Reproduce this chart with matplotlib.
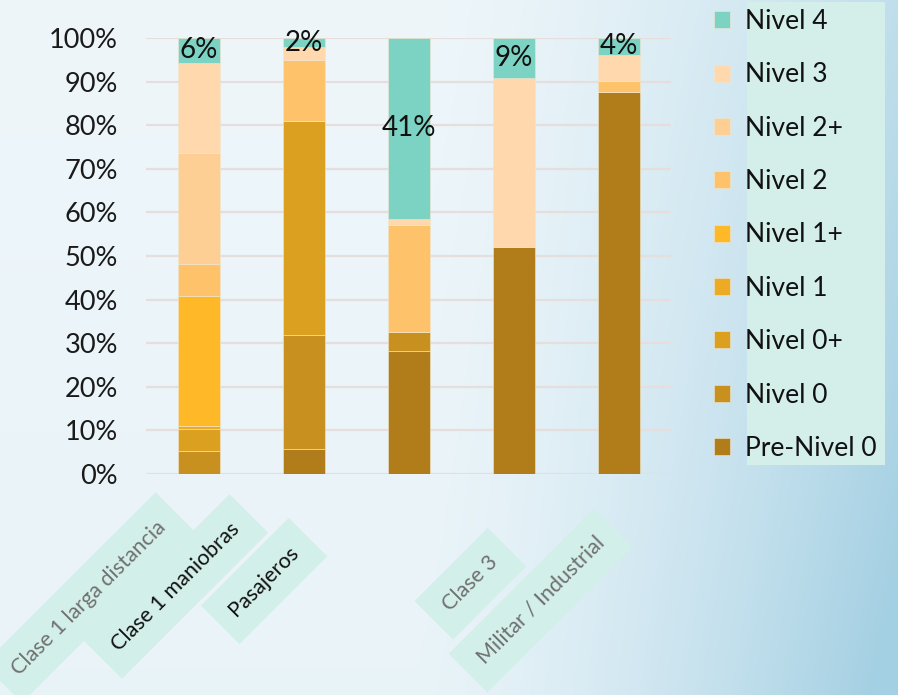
import numpy as np
import matplotlib
matplotlib.use("Agg")
import matplotlib.pyplot as plt
from matplotlib.patches import Rectangle
from matplotlib.ticker import FuncFormatter

plt.rcParams['font.family'] = ['Lato', 'DejaVu Sans']

categories = ["Clase 1 larga distancia", "Clase 1 maniobras", "Pasajeros", "Clase 3", "Militar / Industrial"]
levels = ["Pre-Nivel 0", "Nivel 0", "Nivel 0+", "Nivel 1", "Nivel 1+", "Nivel 2", "Nivel 2+", "Nivel 3", "Nivel 4"]
pre_nivel_0 = [0.0, 5.7, 28.1, 52.1, 87.7]
nivel_0 = [5.3, 26.1, 4.5, 0.0, 0.0]
nivel_0p = [5.1, 49.2, 0.0, 0.0, 0.0]
nivel_1 = [0.6, 0.0, 0.0, 0.0, 0.0]
nivel_1p = [29.8, 0.0, 0.0, 0.0, 0.0]
nivel_2 = [7.4, 14.0, 24.5, 0.0, 2.4]
nivel_2p = [25.4, 0.0, 0.0, 0.0, 0.0]
nivel_3 = [20.7, 2.9, 1.5, 38.8, 6.1]
nivel_4 = [5.7, 2.1, 41.4, 9.1, 3.8]
nivel_4_labels = ["6%", "2%", "41%", "9%", "4%"]
yticks = [0, 10, 20, 30, 40, 50, 60, 70, 80, 90, 100]

series = [pre_nivel_0, nivel_0, nivel_0p, nivel_1, nivel_1p, nivel_2, nivel_2p, nivel_3, nivel_4]
colors = ["#B07D1A", "#C8901E", "#DBA020", "#EDAA25", "#FEB828", "#FEC26B", "#FECF95", "#FFD8AE", "#7DD3C3"]

W, H = 898, 695
fig = plt.figure(figsize=(W / 100, H / 100), dpi=100)

# background gradient
bg = fig.add_axes([0, 0, 1, 1], zorder=-5)
xs = np.linspace(0, 1, 300)
ys = np.linspace(0, 1, 240)
X, Y = np.meshgrid(xs, ys)
t = np.clip((X - 0.46) / 0.54, 0, 1) ** 1.5 * (0.62 + 0.38 * Y)
t = np.clip(t + 0.07 * Y, 0, 1)
c0 = np.array([0xEE, 0xF6, 0xFA]) / 255
c1 = np.array([0xA4, 0xD0, 0xE3]) / 255
img = c0[None, None, :] * (1 - t[..., None]) + c1[None, None, :] * t[..., None]
bg.imshow(img, extent=[0, 1, 0, 1], origin='upper', aspect='auto')
bg.set_axis_off()

# legend mint panel
fig.add_artist(Rectangle((747 / W, 1 - 465 / H), (885 - 747) / W, (465 - 2) / H,
                         transform=fig.transFigure, facecolor="#D4EFEA", edgecolor='none', zorder=-1))

ax = fig.add_axes([146 / W, 1 - 474 / H, (671 - 146) / W, (474 - 38) / H], zorder=1)
ax.set_facecolor('none')
x = np.arange(len(categories))
bottom = np.zeros(len(categories))
containers = []
for name, vals, col in zip(levels, series, colors):
    c = ax.bar(x, vals, width=0.4, bottom=bottom, color=col, label=name,
               edgecolor='#F0E6CF', linewidth=0.4, zorder=3)
    containers.append(c)
    bottom = bottom + np.array(vals)

ax.bar_label(containers[-1], labels=nivel_4_labels, label_type='center',
             fontsize=20, color='#111111')

ax.set_xlim(-0.5, len(categories) - 0.5)
ax.set_ylim(0, 100)
ax.set_yticks(yticks)
ax.yaxis.set_major_formatter(FuncFormatter(lambda v, p: f"{int(v)}%"))
ax.tick_params(axis='y', length=0, pad=20, labelsize=19.5, labelcolor='#1a1a1a')
ax.set_xticks([])
ax.grid(axis='y', color='#E6DEDC', linewidth=1.6, zorder=0)
for s in ax.spines.values():
    s.set_visible(False)

# category labels
offs = [(-79, -89), (-92, -81), (-104, -77), (-31, -79), (-56, -91)]
tcols = ['#707070', '#111111', '#111111', '#707070', '#707070']
for i, (cat, (dx, dy), tc) in enumerate(zip(categories, offs, tcols)):
    ax.annotate(cat, xy=(i, 0), xycoords=('data', 'axes fraction'),
                xytext=(dx, dy), textcoords='offset points',
                rotation=45, rotation_mode='anchor', ha='center', va='center',
                fontsize=15.5, color=tc, annotation_clip=False,
                bbox=dict(boxstyle='square,pad=0.8', facecolor='#D3EFE9', edgecolor='none'))

handles = containers[::-1]
leg = ax.legend(handles, levels[::-1], loc='upper left',
                bbox_to_anchor=(714 / W, 1 - 9 / H), bbox_transform=fig.transFigure,
                frameon=False, fontsize=19, handlelength=0.62, handleheight=0.62,
                handletextpad=0.55, labelspacing=1.075, borderpad=0, borderaxespad=0)
for txt in leg.get_texts():
    txt.set_color('#111111')

fig.savefig("out.png", dpi=100)
